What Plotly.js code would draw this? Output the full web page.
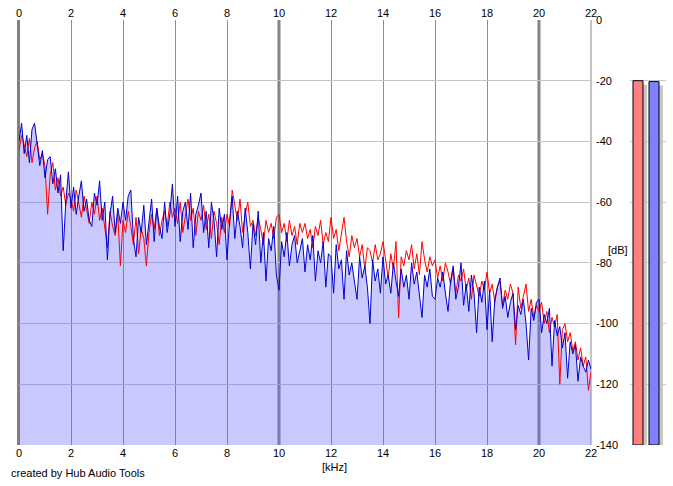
<!DOCTYPE html>
<html><head><meta charset="utf-8">
<script src="https://cdn.plot.ly/plotly-3.0.1.min.js"></script>
<style>html,body{margin:0;padding:0;background:#fff;}#chart{width:673px;height:486px;}</style>
</head><body><div id="chart"></div>
<script>
// Frequency grid (kHz), step 0.1 from 0 to 22
var freqStart = 0, freqStep = 0.1;
var blueDb = [
-40,-34,-44,-38,-47,-36,-34,-41,-48,-43,
-52,-46,-45,-54,-49,-57,-51,-76,-60,-50,
-62,-55,-64,-58,-53,-63,-59,-66,-68,-57,
-61,-53,-66,-60,-79,-64,-58,-70,-62,-67,
-60,-66,-58,-56,-72,-78,-65,-70,-61,-74,
-66,-59,-73,-62,-68,-72,-60,-70,-64,-54,
-68,-58,-73,-63,-60,-69,-57,-75,-64,-61,
-57,-70,-63,-75,-60,-66,-78,-62,-69,-64,
-79,-66,-58,-72,-63,-68,-75,-62,-70,-82,
-67,-74,-63,-80,-70,-86,-72,-76,-68,-84,
-89,-73,-78,-70,-81,-74,-71,-80,-76,-72,
-83,-74,-79,-71,-86,-76,-80,-73,-88,-77,
-78,-90,-74,-82,-79,-92,-76,-84,-80,-87,
-92,-78,-85,-81,-88,-100,-79,-86,-82,-90,
-78,-87,-84,-90,-80,-86,-91,-82,-88,-84,
-92,-80,-87,-83,-90,-98,-84,-88,-82,-91,
-92,-85,-88,-83,-90,-96,-86,-81,-92,-88,
-80,-94,-87,-96,-84,-90,-103,-88,-93,-86,
-102,-89,-106,-92,-88,-85,-95,-91,-98,-93,
-90,-102,-94,-97,-92,-100,-112,-95,-99,-93,
-92,-103,-97,-100,-95,-114,-99,-104,-101,-108,
-103,-118,-106,-110,-107,-119,-111,-114,-116,-112,
-115];
var redDb = [
-43,-38,-41,-45,-39,-47,-42,-40,-46,-44,
-48,-64,-51,-47,-56,-52,-58,-55,-61,-57,
-59,-63,-56,-61,-65,-58,-62,-67,-60,-64,
-58,-66,-62,-69,-75,-63,-68,-71,-64,-81,
-66,-70,-63,-68,-74,-65,-77,-69,-72,-81,
-70,-64,-69,-62,-71,-66,-63,-68,-60,-65,
-62,-67,-60,-70,-64,-59,-66,-62,-71,-63,
-66,-61,-69,-64,-72,-63,-67,-74,-65,-70,
-64,-68,-56,-61,-66,-59,-70,-64,-60,-68,
-66,-71,-65,-69,-74,-66,-70,-67,-72,-65,
-64,-70,-67,-73,-66,-71,-68,-74,-67,-70,
-67,-72,-69,-75,-68,-71,-66,-74,-70,-73,
-65,-72,-69,-76,-70,-65,-73,-78,-71,-75,
-72,-78,-74,-82,-75,-76,-80,-74,-79,-77,
-73,-80,-85,-77,-82,-73,-98,-78,-81,-76,
-79,-74,-82,-77,-84,-73,-79,-83,-78,-81,
-79,-85,-81,-86,-80,-83,-87,-82,-90,-84,
-86,-82,-89,-85,-92,-84,-88,-91,-86,-89,
-83,-90,-87,-93,-88,-86,-94,-89,-92,-87,
-90,-107,-88,-95,-91,-87,-96,-92,-98,-94,
-96,-93,-100,-96,-103,-98,-101,-97,-120,-102,
-100,-106,-103,-109,-106,-112,-108,-114,-111,-122,
-116];
var xTicks = [0,2,4,6,8,10,12,14,16,18,20,22];
var yTicks = [0,-20,-40,-60,-80,-100,-120,-140];
var majorLines = [10,20];
var channels = ['L','R'];
var levelDb = [-20,-20.3];
var FLOOR = -140;

var freqs = blueDb.map(function(_, i){ return +(freqStart + i*freqStep).toFixed(1); });

// layout geometry helpers
var W=673,H=486,L=19,R=5,T=20,B=41, pw=W-L-R, ph=H-T-B;
function px(p){ return (p-L)/pw; }
function py(p){ return (H-B-p)/ph; }
var dbPerPx = 140/ph;

var font = {family:'Liberation Sans, Arial, sans-serif', size:11, color:'#000'};

var meterHeights = levelDb.map(function(v){return v-FLOOR;});
var traces = [
  {x:[freqs[0], freqs[freqs.length-1]], y:[FLOOR, FLOOR], mode:'lines', line:{width:0}, hoverinfo:'skip', showlegend:false, xaxis:'x', yaxis:'y'},
  {x:freqs, y:blueDb, mode:'lines', line:{width:0}, fill:'tonexty', fillcolor:'rgba(100,100,255,0.35)', hoverinfo:'skip', showlegend:false, xaxis:'x', yaxis:'y'},
  {x:freqs, y:redDb, mode:'lines', line:{color:'#ff0000', width:1}, showlegend:false, xaxis:'x', yaxis:'y'},
  {x:freqs, y:blueDb, mode:'lines', line:{color:'#0000d0', width:1}, showlegend:false, xaxis:'x', yaxis:'y'},
  // meter shadows (axis x3 shifted 4px right, base 4px lower) - drawn first
  {type:'bar', x:channels, y:meterHeights, base:FLOOR-4*dbPerPx, width:0.625,
   marker:{color:'#c8c8c0', line:{width:0}}, xaxis:'x3', yaxis:'y', cliponaxis:false, showlegend:false, hoverinfo:'skip'},
  // meters
  {type:'bar', x:channels, y:meterHeights, base:FLOOR, width:0.625,
   marker:{color:['#ff8080','#8080ff'], line:{color:'#000', width:1}}, xaxis:'x4', yaxis:'y', cliponaxis:false, showlegend:false},
  // dummy trace to activate top axis
  {x:[0], y:[FLOOR], xaxis:'x2', yaxis:'y', mode:'markers', marker:{opacity:0}, hoverinfo:'skip', showlegend:false}
];

var shapes = majorLines.map(function(v){
  return {type:'line', xref:'x', yref:'y', x0:v, x1:v, y0:FLOOR, y1:0, layer:'below', line:{color:'#808080', width:3}};
});
shapes.push({type:'line', xref:'paper', yref:'paper', x0:px(18.5), x1:px(18.5), y0:0, y1:1, layer:'below', line:{color:'#808080', width:3}});
shapes.push({type:'line', xref:'paper', yref:'paper', x0:px(591), x1:px(591), y0:0, y1:1, layer:'below', line:{color:'#c4c4c4', width:2}});

var mainDom = [0, px(591)];
var layout = {
  width:W, height:H, margin:{l:L, r:R, t:T, b:B},
  paper_bgcolor:'#fff', plot_bgcolor:'rgba(0,0,0,0)',
  font:font, showlegend:false, barmode:'overlay',
  xaxis:{domain:mainDom, range:[0,22], tickvals:xTicks, ticktext:xTicks.map(String), showgrid:true, gridcolor:'#8c8c8c', gridwidth:1,
         zeroline:false, ticks:'', tickfont:font, anchor:'y'},
  xaxis2:{domain:mainDom, range:[0,22], tickvals:xTicks, ticktext:xTicks.map(String), overlaying:'x', side:'top', anchor:'y',
          showgrid:false, zeroline:false, ticks:'', tickfont:font},
  xaxis3:{domain:[px(634), px(666)], type:'category', range:[-0.5,1.5], showgrid:false, zeroline:false, showticklabels:false, ticks:'', anchor:'y'},
  xaxis4:{domain:[px(630), px(662)], type:'category', range:[-0.5,1.5], showgrid:false, zeroline:false, showticklabels:false, ticks:'', anchor:'y'},
  yaxis:{range:[FLOOR,0], tickvals:yTicks, ticktext:yTicks.map(String), side:'right', anchor:'x',
         showgrid:true, gridcolor:'#c4c4c4', gridwidth:1, zeroline:false, ticks:'', tickfont:font, ticklabelstandoff:4},
  shapes:shapes,
  annotations:[
    {text:'[kHz]', xref:'paper', yref:'paper', x:px(334), y:py(467), xanchor:'center', yanchor:'middle', showarrow:false, font:font},
    {text:'[dB]', xref:'paper', yref:'paper', x:px(606), y:py(250), xanchor:'left', yanchor:'middle', showarrow:false, font:font},
    {text:'created by Hub Audio Tools', xref:'paper', yref:'paper', x:px(9), y:py(473), xanchor:'left', yanchor:'middle', showarrow:false, font:font}
  ]
};

Plotly.newPlot('chart', traces, layout, {displayModeBar:false, staticPlot:true});
</script></body></html>
